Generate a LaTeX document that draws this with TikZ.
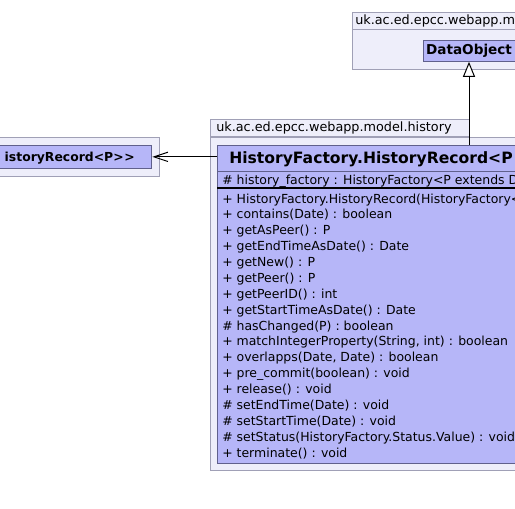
\documentclass[tikz,border=0pt]{standalone}
\usepackage{fontspec}
\setmainfont[Ligatures=TeXOff]{DejaVu Sans}
\usetikzlibrary{arrows, arrows.meta, shapes, positioning}

\definecolor{classfill}{RGB}{182,182,248}
\definecolor{pkgfill}{RGB}{238,238,250}
\definecolor{pkgline}{RGB}{160,160,182}
\definecolor{classline}{RGB}{96,96,140}

\tikzset{
  pkg/.style={draw=pkgline, fill=pkgfill, line width=0.75pt, anchor=north west, inner sep=0pt},
  umlclass/.style={draw=classline, fill=classfill, line width=0.75pt, inner sep=0pt},
  member/.style={anchor=base west, inner sep=0pt, font=\fontsize{9.35}{11}\selectfont},
  pkgname/.style={anchor=base west, inner sep=0pt, font=\fontsize{9.6}{11}\selectfont},
  gen/.style={-{Triangle[open, length=11.25pt, width=9pt, fill=white]}, line width=0.75pt},
  dep/.style={-{Straight Barb[length=10.5pt, width=7pt]}, line width=0.75pt},
}

\begin{document}
\begin{tikzpicture}[x=0.75pt, y=-0.75pt]
  \useasboundingbox (0,0) rectangle (515,508);
  \clip (0,0) rectangle (515,508);

  % paquet du haut
  \node[pkg, minimum width=187.5pt, minimum height=12.75pt] (modeltab) at (352,12) {};
  \node[pkg, minimum width=187.5pt, minimum height=30pt] (modelpkg) at (352,29) {};
  \node[pkgname] (modelname) at (355,24.5) {uk.ac.ed.epcc.webapp.m};
  \node[umlclass, minimum width=69pt, minimum height=15.4pt,
        font=\fontsize{10.2}{12}\selectfont\bfseries] (dataobj) at (469,51) {DataObject};

  % paquet de gauche
  \node[pkg, minimum width=157pt, minimum height=29.25pt] (leftpkg) at (-50,137) {};
  \node[umlclass, anchor=north west, minimum width=151pt, minimum height=17pt] (iface) at (-50,145) {};
  \node[anchor=base east, inner sep=0pt, font=\fontsize{9.3}{12}\selectfont\bfseries]
        (ifacename) at (135,161) {istoryRecord<P>\kern0.5pt>};

  % paquet history
  \node[pkg, minimum width=194.25pt, minimum height=13.1pt] (histtab) at (209.5,119) {};
  \node[pkg, minimum width=293pt, minimum height=250pt] (histpkg) at (209.5,136.5) {};
  \node[pkgname] (histname) at (216,131.7) {uk.ac.ed.epcc.webapp.model.history};

  \node[umlclass, anchor=north west, minimum width=302pt, minimum height=238.5pt] (record) at (217,145) {};
  \node[anchor=base west, inner sep=0pt, font=\fontsize{11.7}{14}\selectfont\bfseries]
        (recordname) at (229,163.5) {HistoryFactory.HistoryRecord<P};
  \draw[classline, line width=0.75pt] (record.west |- 0,171.5) -- (record.east |- 0,171.5);
  \draw[black, line width=1.5pt] (record.west |- 0,188) -- (record.east |- 0,188);

  \node[member] (attr) at (222,184.5) {\# history\_factory : HistoryFactory<P extends Da};

  \foreach \m [count=\i] in {
    + HistoryFactory.HistoryRecord(HistoryFactory<,
    + contains(Date) : boolean,
    + getAsPeer() : P,
    + getEndTimeAsDate() : Date,
    + getNew() : P,
    + getPeer() : P,
    + getPeerID() : int,
    + getStartTimeAsDate() : Date,
    \# hasChanged(P) : boolean,
    {+ matchIntegerProperty(String, int) : boolean},
    {+ overlapps(Date, Date) : boolean},
    + pre\_commit(boolean) : void,
    + release() : void,
    \# setEndTime(Date) : void,
    \# setStartTime(Date) : void,
    \# setStatus(HistoryFactory.Status.Value) : void,
    + terminate() : void}
    \node[member] (m\i) at (222,{203+15.875*(\i-1)}) {\m};

  % liens
  \coordinate (genx) at (469,0);
  \draw[gen] (genx |- record.north) -- (dataobj.south);
  \draw[dep] (record.west |- iface.east) -- (iface.east);
\end{tikzpicture}
\end{document}
